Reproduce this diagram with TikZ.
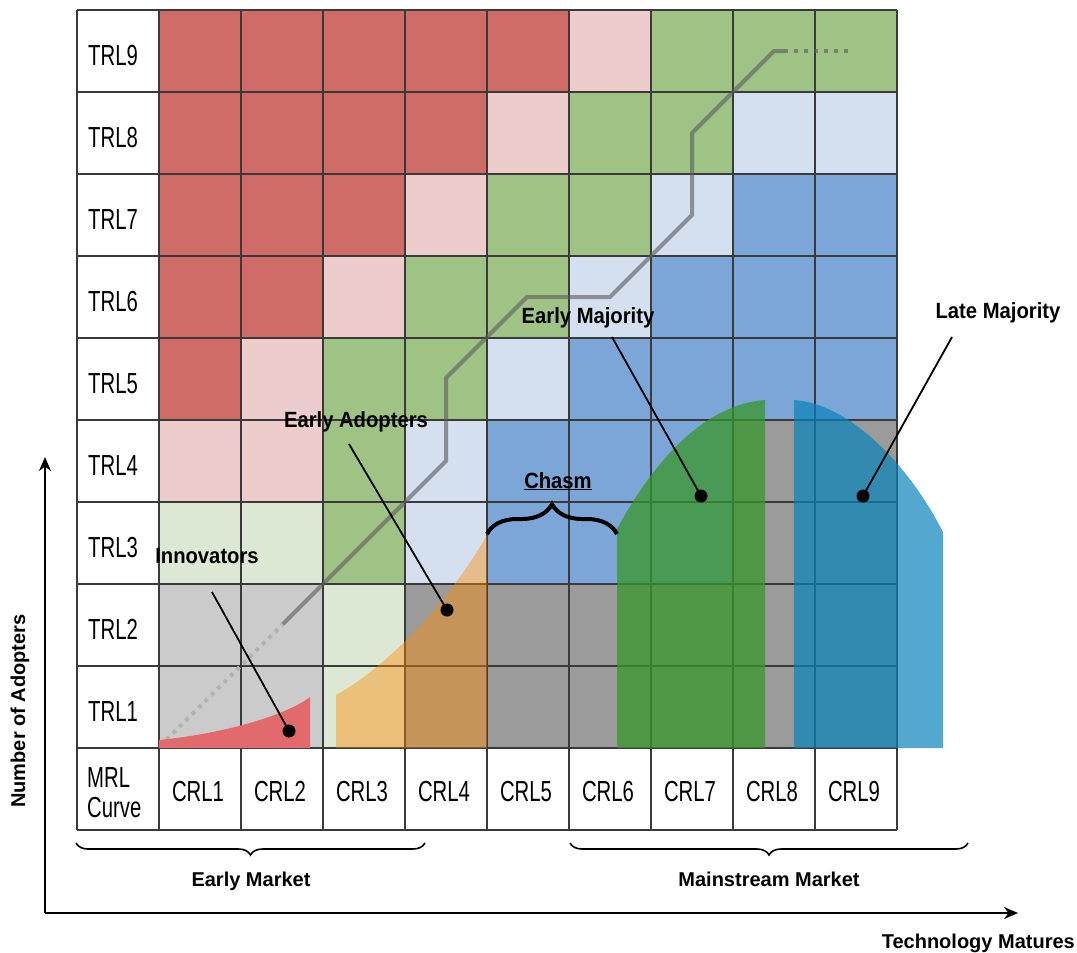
\documentclass[tikz,border=0pt]{standalone}
\usepackage{fontspec}
\setmainfont{Liberation Sans}
\newfontfamily\condfont[FakeStretch=0.7]{Liberation Sans}
\newfontfamily\labfont[FakeStretch=0.92]{Liberation Sans}
\usetikzlibrary{decorations.pathreplacing,arrows.meta}
\definecolor{cR}{HTML}{D06C68}
\definecolor{cP}{HTML}{ECCDCC}
\definecolor{cG}{HTML}{9EC385}
\definecolor{cL}{HTML}{D4E0F0}
\definecolor{cB}{HTML}{7CA6D7}
\definecolor{cV}{HTML}{DDE8D4}
\definecolor{cH}{HTML}{CBCBCB}
\definecolor{cY}{HTML}{9B9B9B}
\definecolor{gridc}{HTML}{3A3A3A}
\definecolor{innovc}{HTML}{E26A6C}
\definecolor{adoptc}{RGB}{255,139,0}
\definecolor{emajc}{RGB}{55,151,42}
\definecolor{lmajc}{RGB}{8,131,185}
\definecolor{stairc}{RGB}{90,90,90}
\definecolor{dotc}{RGB}{178,178,178}
\begin{document}
\begin{tikzpicture}[x=1pt,y=-1pt,
  gridline/.style={draw=gridc,line width=1.3pt},
  rowlab/.style={anchor=base west,inner sep=0pt,font=\condfont\fontsize{29}{30}\selectfont},
  collab/.style={anchor=base,inner sep=0pt,font=\condfont\fontsize{29}{30}\selectfont},
  lab/.style={anchor=base,inner sep=0pt,font=\labfont\bfseries\fontsize{22}{24}\selectfont},
  botlab/.style={anchor=base,inner sep=0pt,font=\bfseries\fontsize{20}{22}\selectfont},
  stair/.style={draw=stairc,draw opacity=0.6,line width=4pt},
  stairdot/.style={draw=dotc,line width=4pt,dash pattern=on 4pt off 5pt},
  callout/.style={draw=black,line width=1.8pt},
  dot/.style={circle,fill=black,inner sep=0pt,minimum size=13pt},
  axis/.style={draw=black,line width=2pt,-{Stealth[length=14pt,width=12pt]}},
  bigbrace/.style={draw=black,line width=4pt,decorate,decoration={brace,amplitude=30pt}},
  smallbrace/.style={draw=black,line width=1.6pt,decorate,decoration={brace,amplitude=12pt}}
]
\useasboundingbox (0,0) rectangle (1077,953);
% cells
\foreach \r/\cl in {9/{cR,cR,cR,cR,cR,cP,cG,cG,cG},
                    8/{cR,cR,cR,cR,cP,cG,cG,cL,cL},
                    7/{cR,cR,cR,cP,cG,cG,cL,cB,cB},
                    6/{cR,cR,cP,cG,cG,cL,cB,cB,cB},
                    5/{cR,cP,cG,cG,cL,cB,cB,cB,cB},
                    4/{cP,cP,cG,cL,cB,cB,cB,cY,cY},
                    3/{cV,cV,cG,cL,cB,cB,cB,cY,cY},
                    2/{cH,cH,cV,cY,cY,cY,cY,cY,cY},
                    1/{cH,cH,cV,cY,cY,cY,cY,cY,cY}}{
  \foreach \c [count=\i] in \cl {
    \fill[fill=\c] ({159+82*(\i-1)},{10+82*(9-\r)}) rectangle ++(82,82);
  }
}
% grid
\foreach \k in {0,...,10}{
  \draw[gridline] ({77+82*\k},10) -- ({77+82*\k},830);
  \draw[gridline] (77,{10+82*\k}) -- (897,{10+82*\k});
}
% row and column labels
\foreach \r in {1,...,9}{
  \node[rowlab] (trl\r) at (88,{10+82*(9-\r)+55}) {TRL\r};
}
\foreach \c in {1,...,9}{
  \node[collab] (crl\c) at ({159+82*(\c-1)+39},801) {CRL\c};
}
\node[rowlab] (mrl) at (87,787) {MRL};
\node[rowlab] (curve) at (87,817) {Curve};
% staircase
\draw[stairdot] (160,746) -- (283,624);
\draw[stair] (283,624) -- (446,461) -- (446,378) -- (527,297) -- (610,297) -- (692,215) -- (692,133) -- (774,51) -- (784,51);
\draw[stair,dash pattern=on 4pt off 6pt] (784,51) -- (853,51);
% adopter shapes
\fill[innovc] (159,748) -- (159,740) .. controls (230,733) and (290,713) .. (310,697) -- (310,748) -- cycle;
\fill[adoptc,fill opacity=0.42] (336,748) -- (336,695) .. controls (390,665) and (450,600) .. (487,535) -- (487,748) -- cycle;
\fill[emajc,fill opacity=0.75] (617,748) -- (617,529) .. controls (650,468) and (700,405) .. (765,400) -- (765,748) -- cycle;
\fill[lmajc,fill opacity=0.7] (794,748) -- (794,400) .. controls (845,403) and (905,458) .. (943,532) -- (943,748) -- cycle;
% callouts
\node[lab] (innov) at (207,563) {Innovators};
\coordinate (innovA) at (212,592);
\node[dot] (innovD) at (289,731) {};
\draw[callout] (innovA) -- (innovD.center);
\node[lab] (eadopt) at (356,427) {Early Adopters};
\coordinate (eadoptA) at (349,444);
\node[dot] (eadoptD) at (447,610) {};
\draw[callout] (eadoptA) -- (eadoptD.center);
\node[lab] (emaj) at (588,323) {Early Majority};
\coordinate (emajA) at (612,337);
\node[dot] (emajD) at (701,496) {};
\draw[callout] (emajA) -- (emajD.center);
\node[lab] (lmaj) at (998,318) {Late Majority};
\coordinate (lmajA) at (952,337);
\node[dot] (lmajD) at (863,496) {};
\draw[callout] (lmajA) -- (lmajD.center);
% chasm
\node[lab] (chasm) at (558,488) {\underline{Chasm}};
\coordinate (chasmL) at (487,534);
\coordinate (chasmR) at (617,534);
\draw[bigbrace] (chasmL) -- (chasmR);
% market braces
\coordinate (emL) at (76,843);
\coordinate (emR) at (425,843);
\draw[smallbrace] (emR) -- (emL);
\node[botlab] (emarket) at (251,886) {Early Market};
\coordinate (mmL) at (570,843);
\coordinate (mmR) at (968,843);
\draw[smallbrace] (mmR) -- (mmL);
\node[botlab] (mmarket) at (769,886) {Mainstream Market};
% axes
\coordinate (orig) at (45,913);
\coordinate (ytip) at (45,457);
\coordinate (xtip) at (1018,913);
\draw[axis] (orig) -- (ytip);
\draw[axis] (orig) -- (xtip);
\node[botlab,anchor=base east] (tech) at (1075,948) {Technology Matures};
\node[botlab,rotate=90] (nadopt) at (25,711) {Number of Adopters};
\end{tikzpicture}
\end{document}
